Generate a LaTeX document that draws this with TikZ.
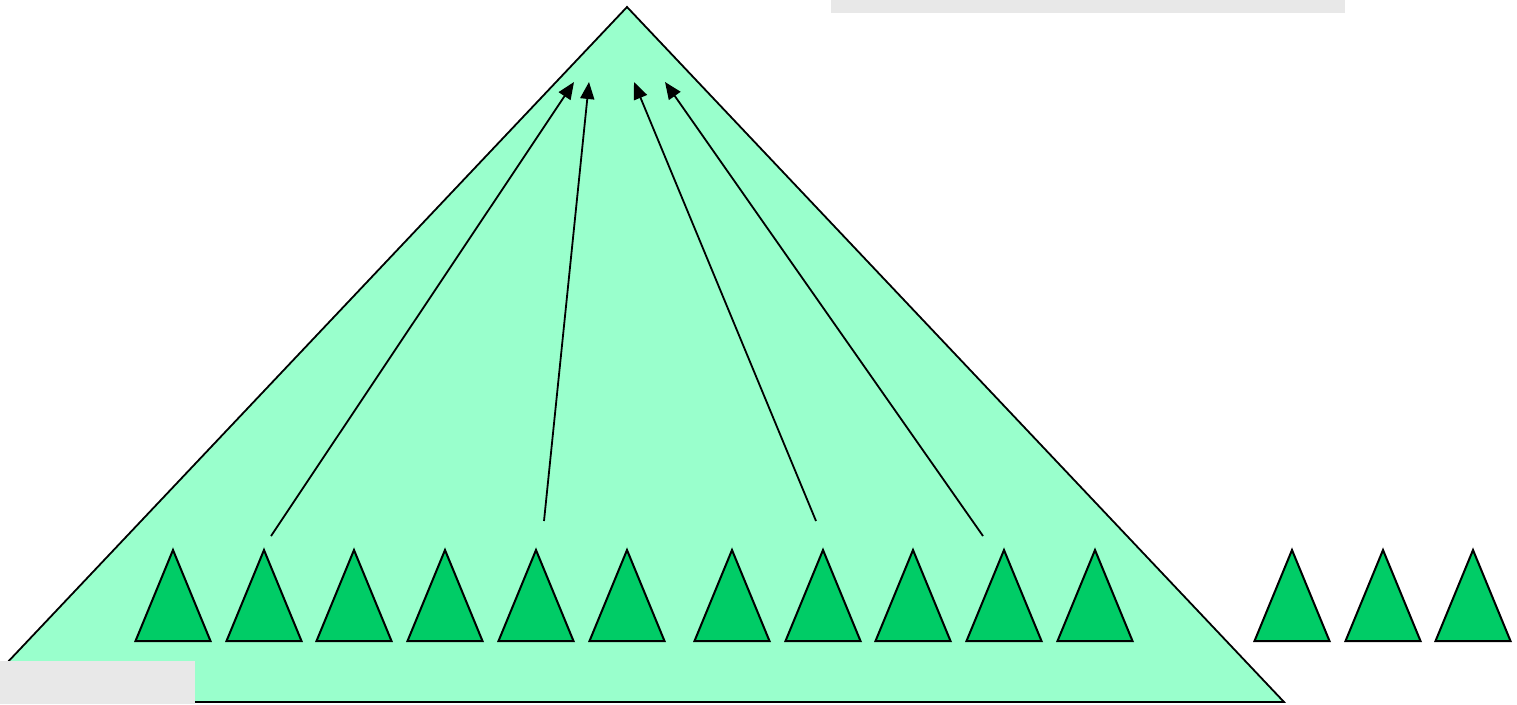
\documentclass[tikz,border=0pt]{standalone}
\usetikzlibrary{arrows.meta}
\definecolor{bigfill}{HTML}{99FFCC}
\definecolor{smallfill}{HTML}{00CC66}
\definecolor{panelgray}{HTML}{E8E8E8}
\begin{document}
\begin{tikzpicture}[x=1pt,y=-1pt,
  bigtri/.style={fill=bigfill,draw=black,line width=1.8pt,line join=miter},
  smalltri/.style={fill=smallfill,draw=black,line width=2pt,line join=miter},
  panel/.style={fill=panelgray,draw=none},
  uparrow/.style={draw=black,line width=1.8pt,-{Triangle[length=17pt,width=14pt]}}]
\useasboundingbox (0,0) rectangle (1517,704);
\begin{scope}
\clip (0,0) rectangle (1517,704);
\draw[bigtri] (627,7) -- (1284,702) -- (-30,702) -- cycle;
\end{scope}
\fill[panel] (0,661) rectangle (195,704);
\fill[panel] (831,0) rectangle (1345,13);
\foreach \cx [count=\i] in {173,264,354,445,536,627,732,823,913,1004,1095,1292,1383,1473}{
  \draw[smalltri] (\cx-37.5,641) -- (\cx,550) -- (\cx+37.5,641) -- cycle;
}
\coordinate (s1) at (271,536);
\coordinate (t1) at (574,82);
\coordinate (s2) at (544,521);
\coordinate (t2) at (589,82);
\coordinate (s3) at (816,521);
\coordinate (t3) at (634,82);
\coordinate (s4) at (983,536);
\coordinate (t4) at (665,82);
\draw[uparrow] (s1) -- (t1);
\draw[uparrow] (s2) -- (t2);
\draw[uparrow] (s3) -- (t3);
\draw[uparrow] (s4) -- (t4);
\end{tikzpicture}
\end{document}
